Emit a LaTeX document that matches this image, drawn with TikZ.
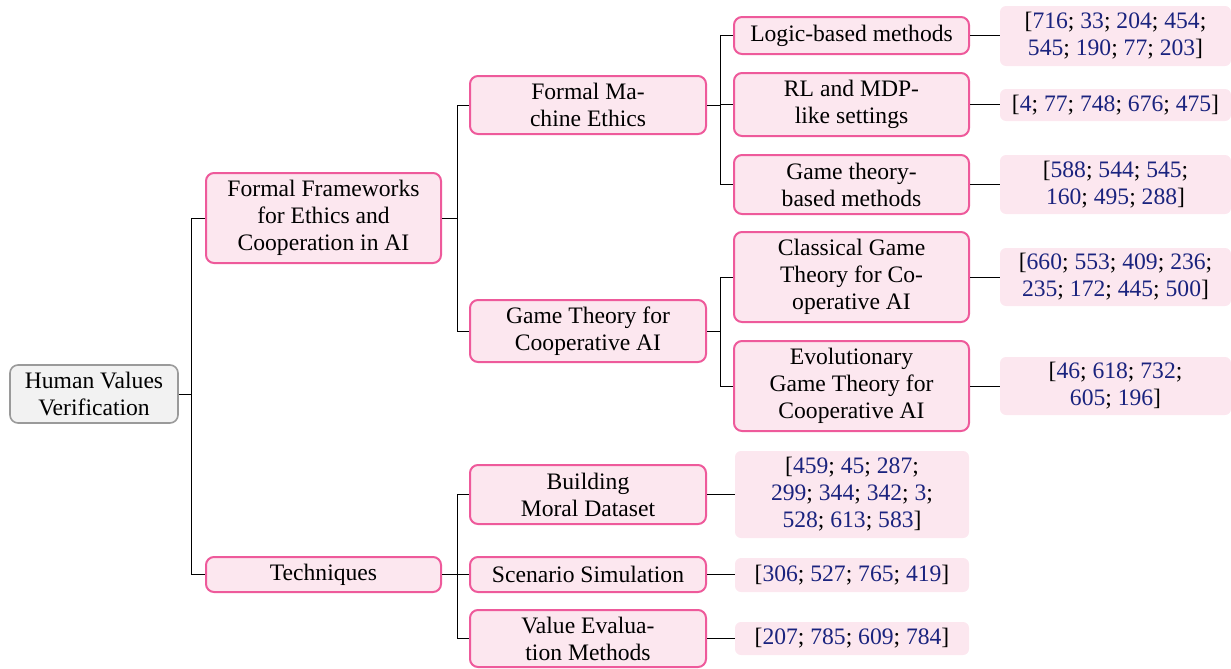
\documentclass[tikz,border=0pt]{standalone}
\usepackage{fontspec}
\setmainfont{Liberation Serif}
\definecolor{pinkborder}{HTML}{EE5A9B}
\definecolor{pinkfill}{HTML}{FCE7EF}
\definecolor{citeblue}{HTML}{1A237E}
\definecolor{rootborder}{HTML}{9A9A9A}
\definecolor{rootfill}{HTML}{F2F2F2}
\newcommand\cn[1]{\textcolor{citeblue}{#1}}
\tikzset{
  base/.style={rounded corners=4pt, align=center, inner sep=0pt,
    font=\fontsize{11.8}{13.5}\selectfont},
  rootbox/.style={base, draw=rootborder, fill=rootfill, line width=0.8pt},
  catbox/.style={base, draw=pinkborder, fill=pinkfill, line width=1pt},
  refbox/.style={base, fill=pinkfill, rounded corners=3pt},
  conn/.style={line width=0.5pt, black},
  wa/.style={minimum width=117.5pt},
  wb/.style={minimum width=118pt},
  wr/.style={minimum width=115.5pt},
  wt/.style={minimum width=117pt},
}
\begin{document}
\begin{tikzpicture}[x=0.5pt, y=-0.5pt]
\useasboundingbox (0,0) rectangle (1231,669);
% root
\node[rootbox, minimum width=84pt, minimum height=29pt] (root) at (94,394) {Human Values\\Verification};
% level 1
\node[catbox, wa, minimum height=45pt] (ffe) at (323.5,218) {Formal Frameworks\\for Ethics and\\Cooperation in AI};
\node[catbox, wa, minimum height=17.5pt] (tech) at (323.5,574.5) {Techniques};
% level 2
\node[catbox, wb, minimum height=29pt] (fme) at (588,105) {Formal Ma-\\chine Ethics};
\node[catbox, wb, minimum height=31pt] (gtc) at (588,331) {Game Theory for\\Cooperative AI};
\node[catbox, wb, minimum height=29.5pt] (bmd) at (588,494.5) {Building\\Moral Dataset};
\node[catbox, wb, minimum height=17.5pt] (ss) at (588,574.5) {Scenario Simulation};
\node[catbox, wb, minimum height=28.5pt] (vem) at (588,638.5) {Value Evalua-\\tion Methods};
% level 3
\node[catbox, wa, minimum height=18.5pt] (logic) at (851.5,35.5) {Logic-based methods};
\node[catbox, wa, minimum height=31.5pt] (rl) at (851.5,104.5) {RL and MDP-\\like settings};
\node[catbox, wa, minimum height=29.5pt] (gtb) at (851.5,184.5) {Game theory-\\based methods};
\node[catbox, wa, minimum height=45pt] (cgt) at (851.5,277) {Classical Game\\Theory for Co-\\operative AI};
\node[catbox, wa, minimum height=45pt] (egt) at (851.5,386) {Evolutionary\\Game Theory for\\Cooperative AI};
% references
\node[refbox, wr, minimum height=30pt] (r1) at (1115.5,36) {[\cn{716}; \cn{33}; \cn{204}; \cn{454};\\\cn{545}; \cn{190}; \cn{77}; \cn{203}]};
\node[refbox, wr, minimum height=16pt] (r2) at (1115.5,105) {[\cn{4}; \cn{77}; \cn{748}; \cn{676}; \cn{475}]};
\node[refbox, wr, minimum height=29.5pt] (r3) at (1115.5,184.5) {[\cn{588}; \cn{544}; \cn{545};\\\cn{160}; \cn{495}; \cn{288}]};
\node[refbox, wr, minimum height=29pt] (r4) at (1115.5,277) {[\cn{660}; \cn{553}; \cn{409}; \cn{236};\\\cn{235}; \cn{172}; \cn{445}; \cn{500}]};
\node[refbox, wr, minimum height=29pt] (r5) at (1115.5,386) {[\cn{46}; \cn{618}; \cn{732};\\\cn{605}; \cn{196}]};
\node[refbox, wt, minimum height=43.5pt] (r6) at (852,494.5) {[\cn{459}; \cn{45}; \cn{287};\\\cn{299}; \cn{344}; \cn{342}; \cn{3};\\\cn{528}; \cn{613}; \cn{583}]};
\node[refbox, wt, minimum height=17pt] (r7) at (852,575) {[\cn{306}; \cn{527}; \cn{765}; \cn{419}]};
\node[refbox, wt, minimum height=16.5pt] (r8) at (852,638.5) {[\cn{207}; \cn{785}; \cn{609}; \cn{784}]};
% tree connectors
\foreach \c in {ffe,tech} \draw[conn] (root.east) -- ++(13,0) |- (\c.west);
\foreach \c in {fme,gtc} \draw[conn] (ffe.east) -- ++(15,0) |- (\c.west);
\foreach \c in {bmd,ss,vem} \draw[conn] (tech.east) -- ++(15,0) |- (\c.west);
\foreach \c in {logic,rl,gtb} \draw[conn] (fme.east) -- ++(13,0) |- (\c.west);
\foreach \c in {cgt,egt} \draw[conn] (gtc.east) -- ++(13,0) |- (\c.west);
% reference connectors
\foreach \a/\b in {logic/r1,rl/r2,gtb/r3,cgt/r4,egt/r5,bmd/r6,ss/r7,vem/r8}
  \draw[conn] (\a.east) -- (\a.east -| \b.west);
\end{tikzpicture}
\end{document}
